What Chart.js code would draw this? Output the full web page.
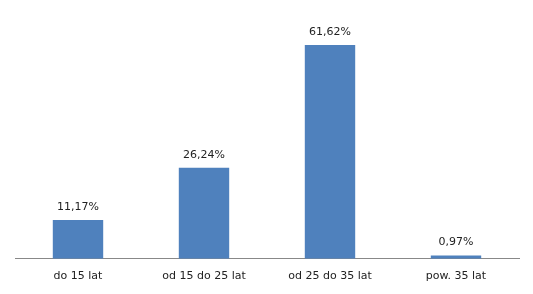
<!DOCTYPE html>
<html>
<head>
<meta charset="utf-8">
<script src="https://cdn.jsdelivr.net/npm/chart.js@4/dist/chart.umd.min.js"></script>
<style>
  html, body { margin: 0; padding: 0; background: #fff; }
  #wrap { width: 533px; height: 294px; }
</style>
</head>
<body>
<div id="wrap"><canvas id="age-chart"></canvas></div>
<script>
"use strict";
// data
var categories = ["do 15 lat", "od 15 do 25 lat", "od 25 do 35 lat", "pow. 35 lat"];
var shares = [11.17, 26.24, 61.62, 0.97];

function pct(v){
	return v.toFixed(2).replace('.', ',') + '%';
}

// value labels above bars
var barLabels = {
	id: 'barLabels',
	afterDatasetsDraw: function(chart){
		var ctx = chart.ctx;
		var meta = chart.getDatasetMeta(0);
		ctx.save();
		ctx.font = '11px "DejaVu Sans"';
		ctx.fillStyle = '#222';
		ctx.textAlign = 'center';
		ctx.textBaseline = 'middle';
		meta.data.forEach(function(bar, i){
			ctx.fillText(pct(shares[i]), bar.x, bar.y - 13);
		});
		ctx.restore();
	}
};

var ctx = document.getElementById("age-chart");
var ageChart = new Chart(ctx, {
	type: 'bar',
	data: {
		labels: categories,
		datasets: [{
			data: shares,
			backgroundColor: '#4f81bd',
			borderWidth: 0,
			categoryPercentage: 1,
			barPercentage: 0.4
		}]
	},
	options: {
		responsive: true,
		maintainAspectRatio: false,
		animation: false,
		layout: { padding: { top: 16, left: 15, right: 14, bottom: 0 } },
		plugins: { legend: { display: false }, tooltip: { enabled: false } },
		scales: {
			x: {
				grid: { display: false, drawTicks: false, tickLength: 0 },
				border: { display: true, color: '#888', width: 1 },
				ticks: { color: '#222', font: { family: 'DejaVu Sans', size: 11 }, padding: 11, maxRotation: 0 }
			},
			y: { display: false, min: 0, max: 70 }
		}
	},
	plugins: [barLabels]
});
</script>
</body>
</html>
